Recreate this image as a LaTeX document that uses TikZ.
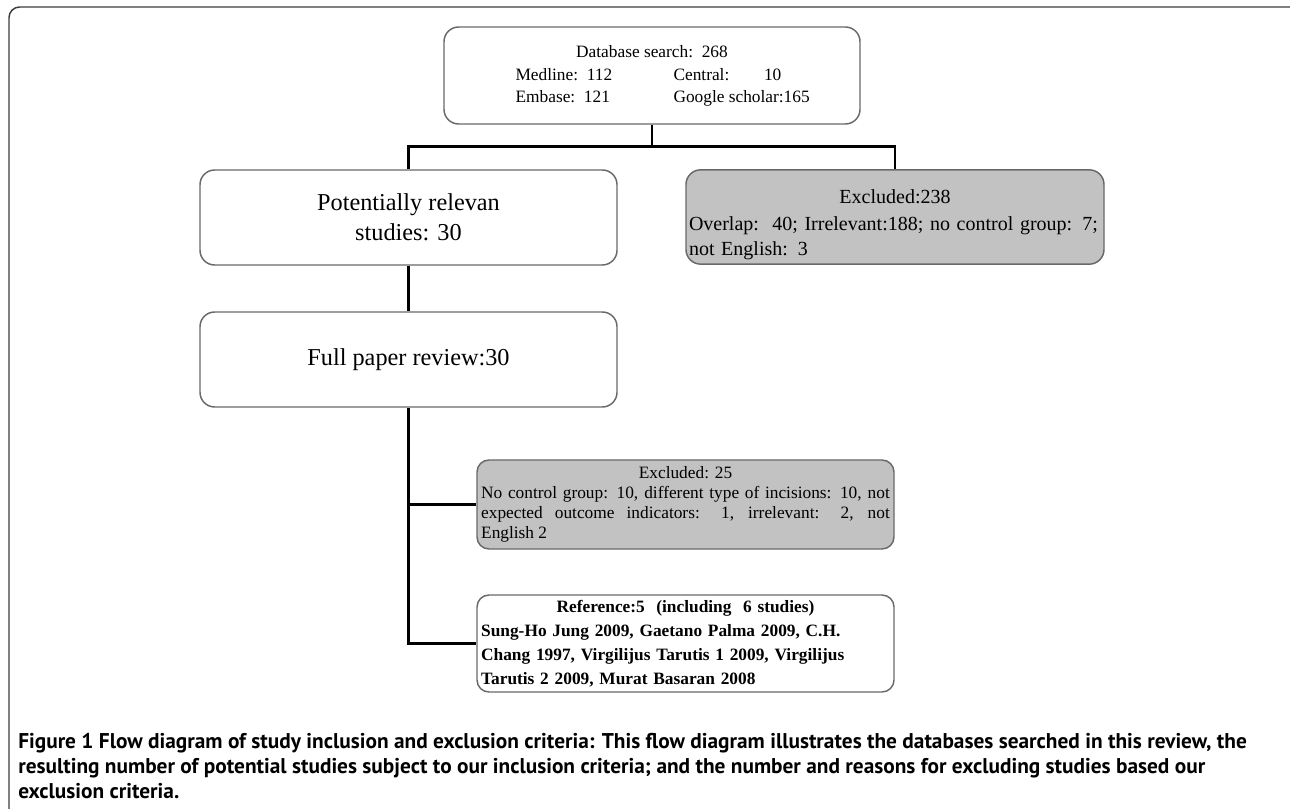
\documentclass[tikz,border=0pt]{standalone}
\usepackage{fontspec}
\setmainfont{Liberation Serif}
\newfontfamily\capfont{PT Sans}
\usetikzlibrary{positioning,calc}
\definecolor{edgegray}{RGB}{105,105,105}
\definecolor{exgray}{RGB}{194,194,194}
\definecolor{rimgray}{RGB}{60,60,60}
\tikzset{
  box/.style={draw=edgegray, line width=1.1pt, rounded corners=11pt, fill=white, align=center, inner sep=3pt},
  exbox/.style={box, fill=exgray},
  link/.style={line width=2.2pt, black},
  caption/.style={anchor=north west, inner sep=0pt, align=left, font=\capfont\bfseries\fontsize{16}{18.75}\selectfont}
}

\begin{document}
\begin{tikzpicture}[x=0.75pt, y=-0.75pt]
        \useasboundingbox (0,0) rectangle (1290,809);
        \draw[rimgray, line width=1.1pt, rounded corners=8pt] (9,809) -- (9,7) -- (1290,7);
        % search and screening
        \node[box, minimum width=312pt, minimum height=72.75pt, font=\fontsize{13}{15.75}\selectfont] (db) at (652,75.5)
          {\def\arraystretch{1.08}%
           \begin{tabular}{@{\hspace{16pt}}l@{\hspace{46pt}}l@{}}
             \multicolumn{2}{c}{Database search:\ \ 268}\\
             Medline:\ \ 112 & Central:\hspace{2em}10\\
             Embase:\ \ 121 & Google scholar:165
           \end{tabular}};
        \node[box, minimum width=312.75pt, minimum height=71.25pt, font=\fontsize{18.2}{22.5}\selectfont] (pot) at (408.5,217.5) {Potentially relevan\\studies: 30};
        \node[box, minimum width=312.75pt, minimum height=71.25pt, font=\fontsize{18.2}{22.5}\selectfont] (full) at (408.5,359.5) {Full paper review:30};
        \node[exbox, minimum width=313.5pt, minimum height=70.5pt, text width=309pt, inner xsep=2pt, align=left, font=\fontsize{15}{18.75}\selectfont] (excl1) at (895,217)
          {{\centering\rule{0pt}{22pt}Excluded:238\par}\vspace{2pt}Overlap:\ \ 40; Irrelevant:188; no control group: 7;\\not English: 3};
        % full text stage
        \node[exbox, rounded corners=9pt, minimum width=312.75pt, minimum height=66.75pt, text width=306.5pt, align=justify, font=\fontsize{13}{15}\selectfont] (excl2) at (685.5,504.5)
          {{\centering Excluded: 25\par}No control group: 10, different type of incisions: 10, not\linebreak expected outcome indicators: 1, irrelevant: 2, not\linebreak English 2};
        \node[box, rounded corners=9pt, minimum width=312.75pt, minimum height=72.75pt, text width=306.5pt, align=left, font=\bfseries\fontsize{13}{18}\selectfont] (refs) at (685.5,643.5)
          {{\centering Reference:5\ \ (including\ \ 6 studies)\par}Sung-Ho Jung 2009, Gaetano Palma 2009, C.H.\\Chang 1997, Virgilijus Tarutis 1 2009, Virgilijus\\Tarutis 2 2009, Murat Basaran 2008};
        % connectors
        \draw[link] (db.south) -- ++(0,22) coordinate (split);
        \draw[link] (pot.north) -- (pot.north |- split) -- (excl1.north |- split) -- (excl1.north);
        \draw[link] (pot.south) -- (full.north);
        \draw[link] (full.south) |- (refs.west);
        \draw[link] (full.south |- excl2.west) -- (excl2.west);
        % caption
        \node[caption] (cap) at (18,733)
          {Figure 1 Flow diagram of study inclusion and exclusion criteria: This flow diagram illustrates the databases searched in this review, the\\
           resulting number of potential studies subject to our inclusion criteria; and the number and reasons for excluding studies based our\\
           exclusion criteria.};
\end{tikzpicture}
\end{document}
